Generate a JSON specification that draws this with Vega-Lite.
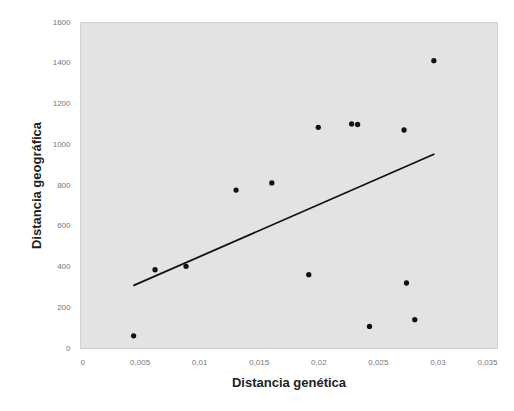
{
  "$schema": "https://vega.github.io/schema/vega-lite/v6.json",
  "width": 417,
  "height": 326,
  "autosize": "none",
  "padding": {"left": 80, "top": 22, "right": 17, "bottom": 63},
  "background": "#ffffff",
  "config": {
    "locale": {"number": {"decimal": ",", "thousands": ".", "grouping": [3], "currency": ["", ""]}},
    "view": {"fill": "#e3e3e3", "stroke": "#d0d0d0"},
    "axis": {"grid": false, "domain": false, "ticks": false, "labelColor": "#777777", "labelFont": "Liberation Sans", "labelFontSize": 8, "titleFont": "Liberation Sans", "titleFontSize": 13, "titleFontWeight": "bold", "titleColor": "#222222"}
  },
  "layer": [
    {
      "data": {"values": [
        {"gen": 0.0297, "geo": 1410},
        {"gen": 0.0200, "geo": 1083},
        {"gen": 0.0228, "geo": 1100},
        {"gen": 0.0233, "geo": 1097},
        {"gen": 0.0272, "geo": 1070},
        {"gen": 0.0161, "geo": 810},
        {"gen": 0.0131, "geo": 775},
        {"gen": 0.0063, "geo": 384},
        {"gen": 0.0089, "geo": 401},
        {"gen": 0.0192, "geo": 360},
        {"gen": 0.0274, "geo": 319},
        {"gen": 0.0281, "geo": 139},
        {"gen": 0.0243, "geo": 106},
        {"gen": 0.0045, "geo": 60}
      ]},
      "mark": {"type": "circle", "color": "#111111", "opacity": 1, "size": 28},
      "encoding": {
        "x": {"field": "gen", "type": "quantitative", "scale": {"domain": [0, 0.035], "nice": false}, "axis": {"values": [0, 0.005, 0.01, 0.015, 0.02, 0.025, 0.03, 0.035], "format": ".3~f", "labelPadding": 10, "title": "Distancia genética", "titlePadding": 10}},
        "y": {"field": "geo", "type": "quantitative", "scale": {"domain": [0, 1600], "nice": false}, "axis": {"values": [0, 200, 400, 600, 800, 1000, 1200, 1400, 1600], "format": "d", "labelPadding": 10, "title": "Distancia geográfica", "titlePadding": 9}}
      }
    },
    {
      "data": {"values": [
        {"gen": 0.00447, "geo": 306},
        {"gen": 0.02975, "geo": 952}
      ]},
      "mark": {"type": "line", "color": "#111111", "strokeWidth": 1.8},
      "encoding": {
        "x": {"field": "gen", "type": "quantitative"},
        "y": {"field": "geo", "type": "quantitative"}
      }
    }
  ]
}
